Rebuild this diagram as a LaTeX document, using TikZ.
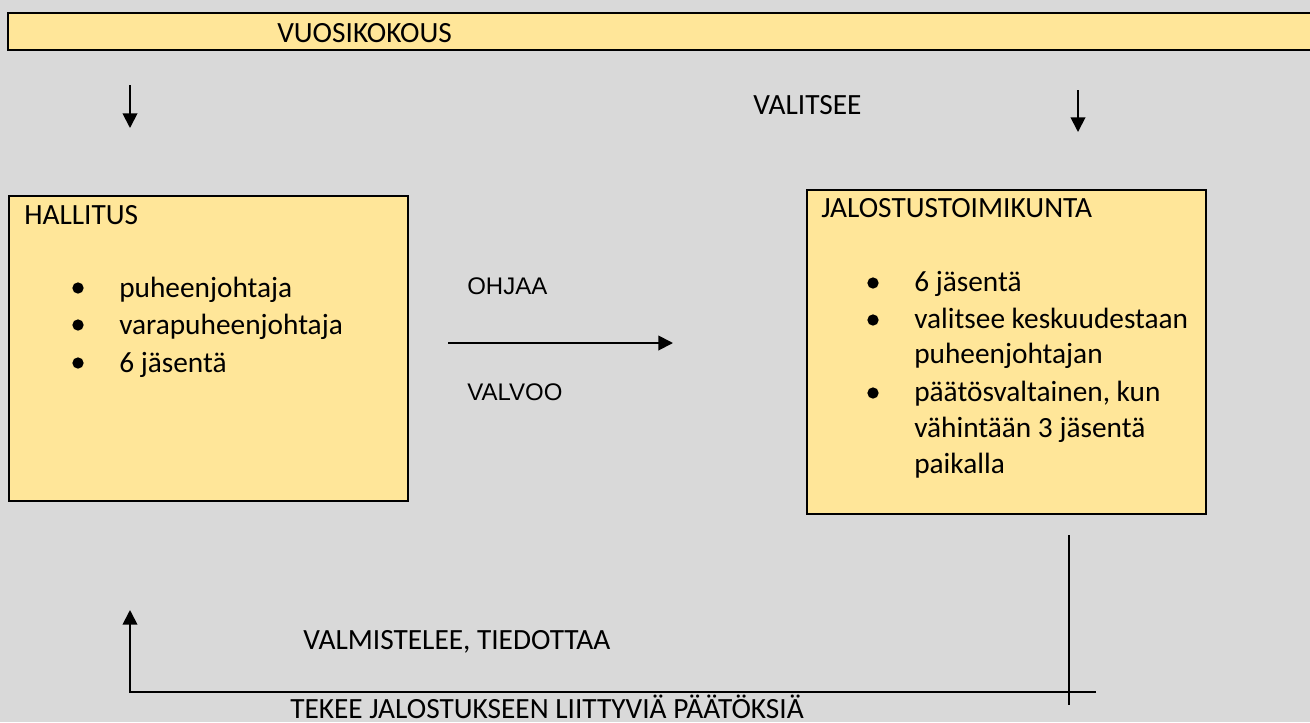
\documentclass[tikz,border=0pt]{standalone}
\usepackage{fontspec}
\setmainfont{Carlito}
\newfontfamily\arialfont{Liberation Sans}
\usepackage{xcolor}
\usetikzlibrary{arrows.meta}
\definecolor{bggray}{HTML}{D9D9D9}
\definecolor{boxyellow}{HTML}{FFE699}

\begin{document}
\begin{tikzpicture}[x=0.75pt,y=-0.75pt,line join=miter,>={Triangle[length=11pt,width=11pt]},
  box/.style={draw=black,line width=1.5pt,fill=boxyellow,anchor=north west,inner sep=0pt},
  txt/.style={anchor=base west,inner sep=0pt,font=\fontsize{22}{28}\selectfont},
  atxt/.style={anchor=base west,inner sep=0pt,font=\arialfont\fontsize{18}{22}\selectfont},
  bul/.style={circle,fill=black,inner sep=0pt,minimum size=8.5pt},
  arr/.style={line width=1.4pt,->}]
\useasboundingbox (0,0) rectangle (1310,722);
\clip (0,0) rectangle (1310,722);
\fill[bggray] (0,0) rectangle (1310,722);

% vuosikokous
\draw[line width=1.5pt,fill=boxyellow] (8,13) rectangle (1320,50);
\node[txt] (vuosi) at (277,42) {VUOSIKOKOUS};

% valitsee
\coordinate (vl1) at (130,85);
\coordinate (vl2) at (130,128);
\coordinate (vr1) at (1078,90);
\coordinate (vr2) at (1078,132);
\draw[arr] (vl1) -- (vl2);
\draw[arr] (vr1) -- (vr2);
\node[txt] (valitsee) at (753,114) {VALITSEE};

% hallitus
\node[box,minimum width=299.25pt,minimum height=228.75pt] (hallitus) at (8,195) {};
\node[txt] (htitle) at (24,224) {HALLITUS};
\foreach \y/\t [count=\i] in {297/puheenjohtaja,334/varapuheenjohtaja,372/6 jäsentä}{
  \node[bul] (hb\i) at (78,\y-9) {};
  \node[txt] (ht\i) at (119,\y) {\t};
}

% jalostustoimikunta
\node[box,minimum width=299.25pt,minimum height=243pt] (jalostus) at (806,189) {};
\node[txt] (jtitle) at (821,217) {JALOSTUSTOIMIKUNTA};
\foreach \y [count=\i] in {291,328,401}
  \node[bul] (jb\i) at (873,\y-8) {};
\foreach \y/\t [count=\i] in {291/6 jäsentä,328/valitsee keskuudestaan,363/puheenjohtajan,401/{päätösvaltainen, kun},437/vähintään 3 jäsentä,473/paikalla}
  \node[txt] (jt\i) at (914,\y) {\t};

% ohjaa / valvoo
\coordinate (oa) at (448,343);
\coordinate (ob) at (673,343);
\draw[arr] (oa) -- (ob);
\node[atxt] (ohjaa) at (467,294) {OHJAA};
\node[atxt] (valvoo) at (467,400) {VALVOO};

% paluu
\coordinate (pv1) at (1069,535);
\coordinate (pv2) at (1069,705);
\coordinate (ph1) at (1096,692);
\coordinate (ph2) at (130,692);
\coordinate (ph3) at (130,610);
\draw[line width=1.4pt] (pv1) -- (pv2);
\draw[arr] (ph1) -- (ph2) -- (ph3);
\node[txt] (valm) at (303,649) {VALMISTELEE, TIEDOTTAA};
\node[txt] (tekee) at (290,718) {TEKEE JALOSTUKSEEN LIITTYVIÄ PÄÄTÖKSIÄ};
\end{tikzpicture}
\end{document}
